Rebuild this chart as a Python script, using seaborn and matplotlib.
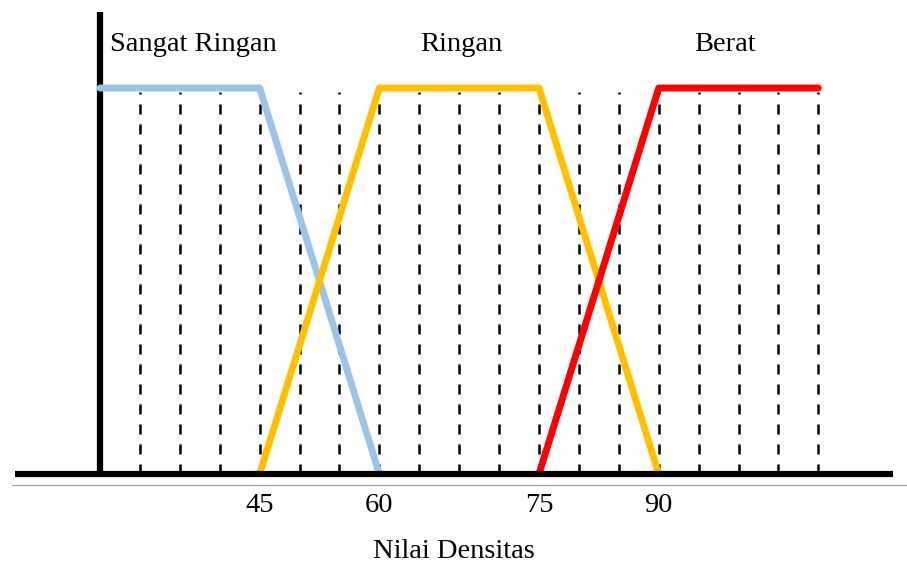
import matplotlib
matplotlib.use("Agg")
import seaborn as sns
from matplotlib import pyplot as plt

# posisi sumbu x = indeks garis grid putus-putus (skala tidak linear)
tick_pos = [4, 7, 11, 14]
tick_labels = ["45", "60", "75", "90"]
grid_pos = list(range(1, 19))

sangat_ringan_x = [0, 4, 7]
sangat_ringan_y = [1, 1, 0]
ringan_x = [4, 7, 11, 14]
ringan_y = [0, 1, 1, 0]
berat_x = [11, 14, 18]
berat_y = [0, 1, 1]

labels = ["Sangat Ringan", "Ringan", "Berat"]
label_x = [2.33, 9.05, 15.66]
colors = ["#9DC3E6", "#FFC000", "#FF0000"]

sns.set_style("white")
plt.rcParams['font.family'] = ['Liberation Serif', 'DejaVu Serif']
plt.rcParams['text.color'] = 'black'
plt.rcParams['xtick.color'] = 'black'
plt.rcParams['axes.labelcolor'] = 'black'

fig = plt.figure(figsize=(9.07, 5.63), dpi=100)
ax = fig.add_axes([15 / 907, (563 - 474) / 563, (893 - 15) / 907, (474 - 12) / 563])

# garis grid putus-putus
for gx in grid_pos:
    ax.plot([gx, gx], [0, 0.99], color="black", lw=1.8, ls=(0, (4, 4)), zorder=1)

sns.lineplot(x=sangat_ringan_x, y=sangat_ringan_y, sort=False, color=colors[0], lw=5, ax=ax, zorder=3)
sns.lineplot(x=ringan_x, y=ringan_y, sort=False, color=colors[1], lw=5, ax=ax, zorder=3)
sns.lineplot(x=berat_x, y=berat_y, sort=False, color=colors[2], lw=5, ax=ax, zorder=3)

for lab, lx in zip(labels, label_x):
    ax.text(lx, 1.114, lab, ha="center", va="center", fontsize=20.5)

ax.set_xlim(-2.13, 19.87)
ax.set_ylim(0, 1.197)

ax.spines['left'].set_position(('data', 0))
ax.spines['right'].set_visible(False)
ax.spines['top'].set_visible(False)
for s in ['left', 'bottom']:
    ax.spines[s].set_linewidth(4.5)
    ax.spines[s].set_color("black")
    ax.spines[s].set_capstyle("butt")
ax.spines['bottom'].set_zorder(4)

ax.set_yticks([])
ax.set_xticks(tick_pos)
ax.set_xticklabels(tick_labels, fontsize=20.5)
ax.tick_params(axis="x", length=0, pad=13.5)
ax.set_xlabel("Nilai Densitas", fontsize=20.5, labelpad=15)

# garis abu-abu tipis di bawah sumbu x
ax.plot([-2.2, 20.3], [-0.0285, -0.0285], color="#999999", lw=0.8, clip_on=False)

fig.savefig("out.png", dpi=100)
